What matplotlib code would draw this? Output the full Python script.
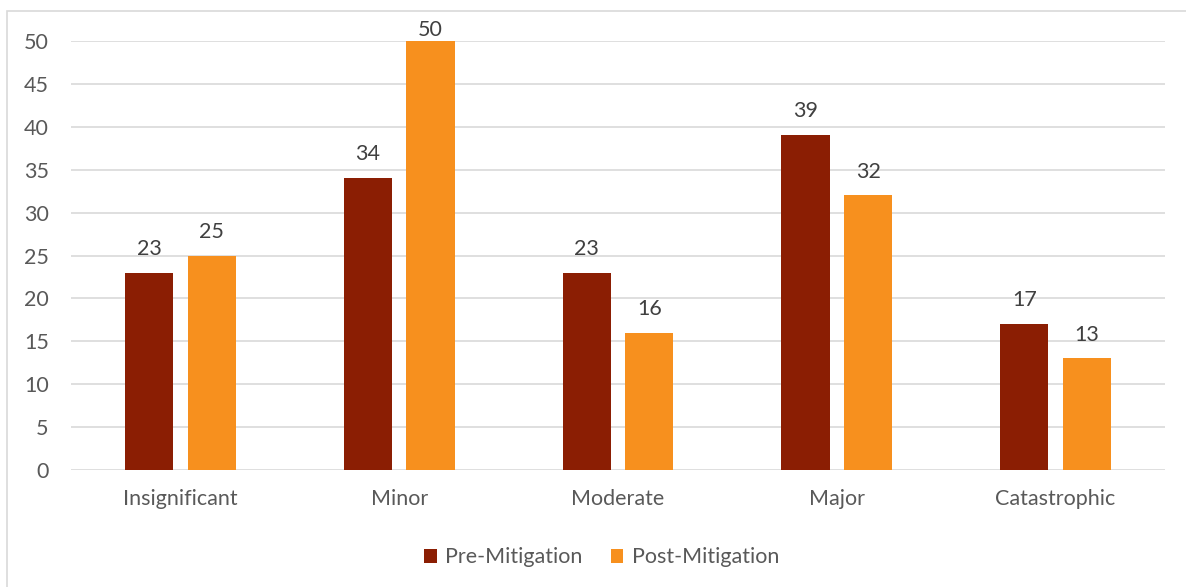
import matplotlib
matplotlib.use("Agg")
import matplotlib.pyplot as plt
import numpy as np
from matplotlib.patches import Rectangle

# Data
categories = ['Insignificant', 'Minor', 'Moderate', 'Major', 'Catastrophic']
pre_mitigation = [23, 34, 23, 39, 17]
post_mitigation = [25, 50, 16, 32, 13]

PRE_COLOR = '#8B1E03'
POST_COLOR = '#F7901E'
TEXT_COLOR = '#595959'
FS = 15.5
Y_MAX = 50

plt.rcParams['font.family'] = ['Lato', 'DejaVu Sans']

fig = plt.figure(figsize=(11.86, 5.87), dpi=100)
ax = fig.add_axes([71 / 1186, 1 - 470 / 587, (1165 - 71) / 1186, (470 - 41) / 587])

# outer chart border (light gray), runs off right/bottom edges
fig.patches.append(Rectangle((7 / 1186, -0.05), 1.2, 1 - 11 / 587 + 0.05,
                             transform=fig.transFigure, fill=False,
                             edgecolor='#D9D9D9', linewidth=1.2))

x = np.arange(len(categories))
width = 0.22
offset = 0.143

b1 = ax.bar(x - offset, pre_mitigation, width, color=PRE_COLOR, label='Pre-Mitigation', zorder=3)
b2 = ax.bar(x + offset, post_mitigation, width, color=POST_COLOR, label='Post-Mitigation', zorder=3)

for bars, vals in ((b1, pre_mitigation), (b2, post_mitigation)):
    labels = ax.bar_label(bars, padding=10, fontsize=FS, color='#404040')
    # labels at the top of the scale get squeezed down like Excel does
    for lab, v in zip(labels, vals):
        if v >= Y_MAX:
            lab.xyann = (0, 1)

ax.set_xlim(-0.5, len(categories) - 0.5)
ax.set_ylim(0, Y_MAX)
ax.set_yticks(range(0, Y_MAX + 1, 5))
ax.set_xticks(x)
ax.set_xticklabels(categories)

ax.grid(axis='y', color='#D9D9D9', linewidth=1.2, zorder=0)
for s in ax.spines.values():
    s.set_visible(False)
ax.tick_params(axis='both', length=0, labelsize=FS, labelcolor=TEXT_COLOR)
ax.tick_params(axis='y', pad=16)
ax.tick_params(axis='x', pad=14)

ax.legend(loc='upper center', bbox_to_anchor=(0.485, -0.135), ncol=2, frameon=False,
          fontsize=FS, labelcolor=TEXT_COLOR, handlelength=0.6, handleheight=0.6,
          columnspacing=1.3, handletextpad=0.4)

fig.savefig('out.png', dpi=100)
